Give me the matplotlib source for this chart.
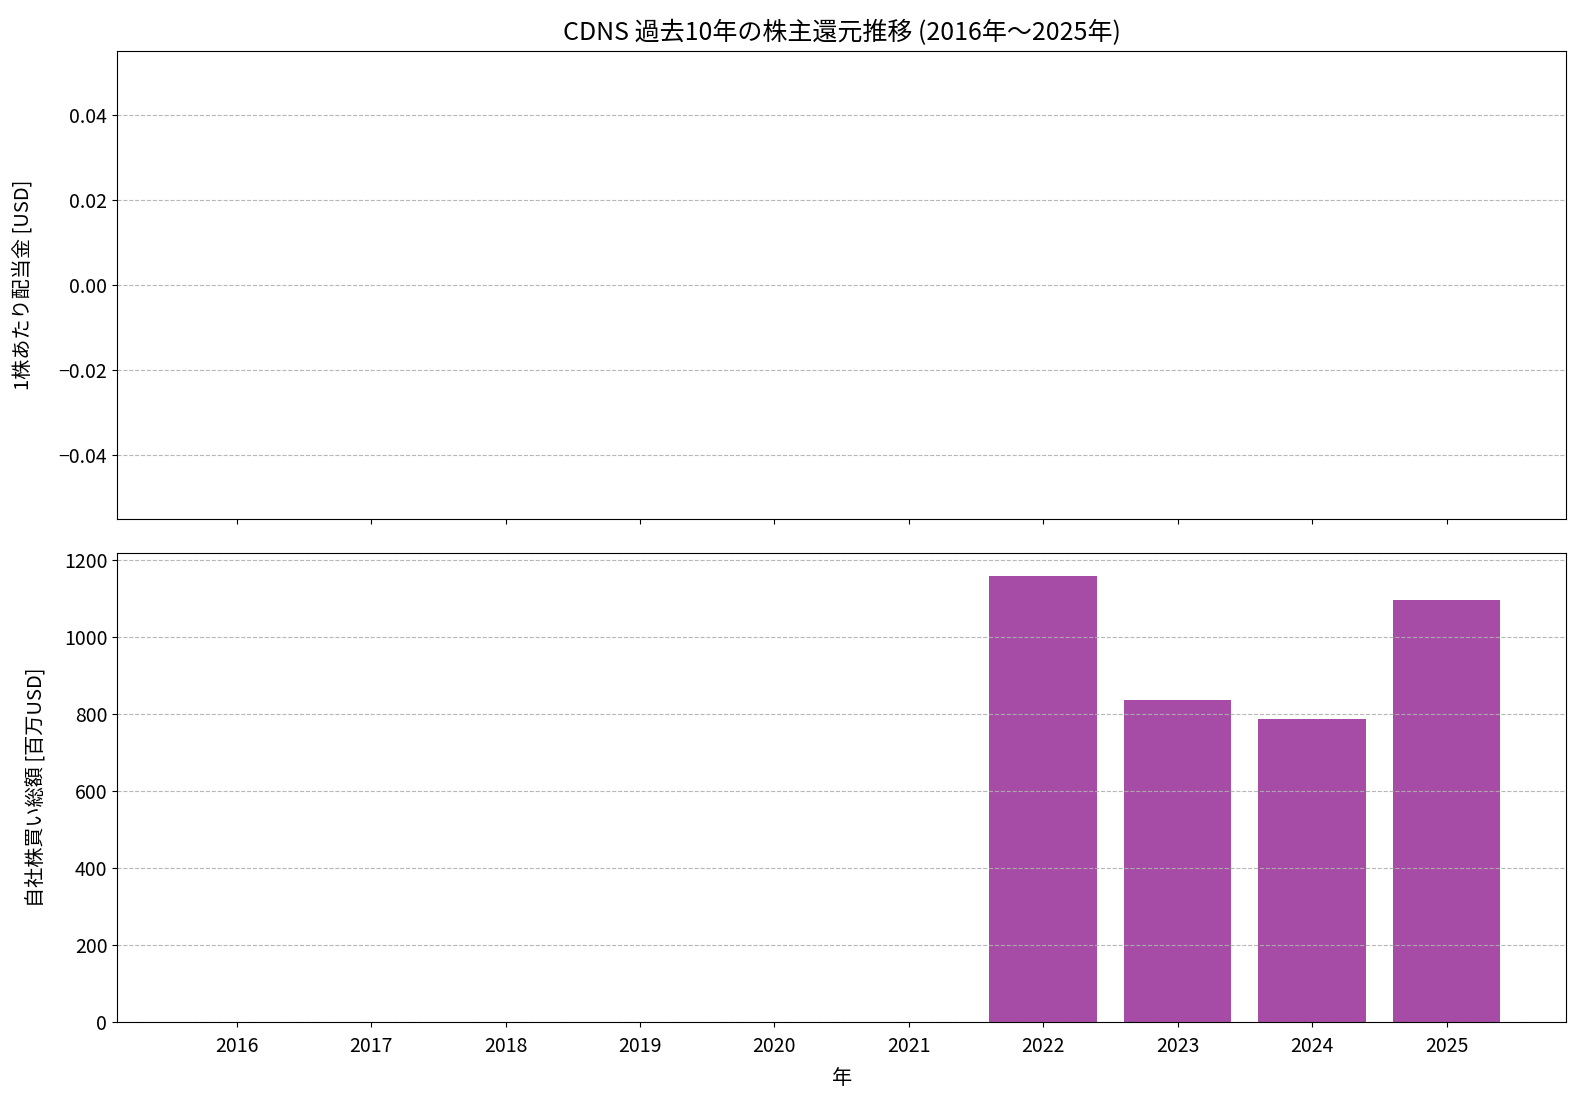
import matplotlib
matplotlib.use("Agg")
import matplotlib.pyplot as plt
import numpy as np

plt.rcParams['font.family'] = ['Noto Sans CJK JP', 'DejaVu Sans']
plt.rcParams['font.size'] = 14

# data
years = [2016, 2017, 2018, 2019, 2020, 2021, 2022, 2023, 2024, 2025]
dividends = [0, 0, 0, 0, 0, 0, 0, 0, 0, 0]
buybacks = [0, 0, 0, 0, 0, 0, 1160, 836, 786, 1097]

fig, (ax1, ax2) = plt.subplots(2, 1, figsize=(15.82, 11.02), dpi=100, sharex=True)

ax1.bar(years, dividends, color='teal', alpha=0.7)
ax1.set_ylim(-0.055, 0.055)
ax1.set_ylabel('1株あたり配当金 [USD]', fontsize=14.5, labelpad=18)
ax1.set_title('CDNS 過去10年の株主還元推移 (2016年～2025年)', fontsize=18, pad=8)
ax1.grid(axis='y', linestyle='--', alpha=0.9, color='#b0b0b0')

ax2.bar(years, buybacks, color='purple', alpha=0.7)
ax2.set_ylabel('自社株買い総額 [百万USD]', fontsize=14.5, labelpad=12)
ax2.set_xlabel('年', fontsize=14.5, labelpad=8)
ax2.grid(axis='y', linestyle='--', alpha=0.9, color='#b0b0b0')
ax2.set_xticks(years)
ax2.tick_params(axis='x', pad=7)

plt.subplots_adjust(left=0.074, right=0.990, top=0.954, bottom=0.073, hspace=0.073)
plt.savefig('out.png', dpi=100)
plt.close()
